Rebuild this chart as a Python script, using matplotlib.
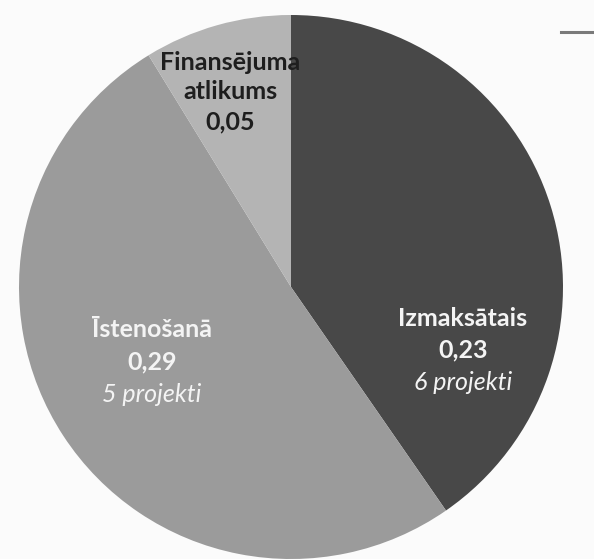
import matplotlib
matplotlib.use("Agg")
import matplotlib.pyplot as plt
from matplotlib.lines import Line2D

labels = ['Izmaksātais', 'Īstenošanā', 'Finansējuma\natlikums']
values = [0.23, 0.29, 0.05]
value_text = ['0,23', '0,29', '0,05']
projects = ['6 projekti', '5 projekti', None]
colors = ['#484848', '#9b9b9b', '#b4b4b4']
text_colors = ['#f4f4f4', '#f4f4f4', '#1e1e1e']

plt.rcParams['font.family'] = ['Lato', 'DejaVu Sans']

fig = plt.figure(figsize=(5.94, 5.59), dpi=100, facecolor='#fbfbfb')
ax = fig.add_axes([0, 0, 1, 1])
ax.set_facecolor('#fbfbfb')

ax.pie(values, colors=colors, startangle=90, counterclock=False, radius=1.0,
       wedgeprops=dict(linewidth=0))

# pie radius = 272 px, centre at (291, 287) px from top-left
ax.set_xlim(-291 / 272, 303 / 272)
ax.set_ylim(-272 / 272, 287 / 272)
ax.set_aspect('auto')
ax.axis('off')

# label anchor (x, y of first line) in axis units
anchors = [(0.632, -0.114), (-0.511, -0.158), (-0.224, 0.827)]
steps = [0.119, 0.119, 0.11]
fs = 18

for i, (x, y) in enumerate(anchors):
    step = steps[i]
    lines = labels[i].split('\n')
    k = 0
    for ln in lines:
        ax.text(x, y - k * step, ln, ha='center', va='center', fontsize=fs,
                fontweight='bold', color=text_colors[i])
        k += 1
    ax.text(x, y - k * step, value_text[i], ha='center', va='center', fontsize=fs,
            fontweight='bold', color=text_colors[i])
    k += 1
    if projects[i]:
        ax.text(x, y - k * step, projects[i], ha='center', va='center', fontsize=fs,
                style='italic', color=text_colors[i])

# scanned stray rule at the top right
fig.add_artist(Line2D([0.945, 1.0], [0.943, 0.943], color='#7a7a7a', linewidth=2.2))

fig.savefig('out.png', dpi=100, facecolor=fig.get_facecolor())
